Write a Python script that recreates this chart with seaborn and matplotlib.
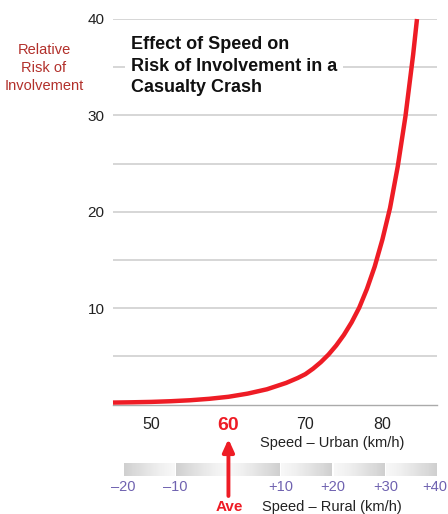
import numpy as np
import pandas as pd
import matplotlib.pyplot as plt
import matplotlib.transforms as mtransforms
import seaborn as sns

# values (urban speed km/h -> relative risk)
speed = [45, 47.5, 50, 52.5, 55, 57.5, 60, 62.5, 65, 67.5, 69, 70, 71, 72,
         73, 74, 75, 76, 77, 78, 79, 80, 81, 82, 83, 84, 84.5]
risk = [0.20, 0.23, 0.27, 0.34, 0.44, 0.59, 0.80, 1.13, 1.58, 2.24, 2.75,
        3.15, 3.72, 4.39, 5.18, 6.12, 7.22, 8.52, 10.06, 12.0, 14.3, 17.1,
        20.4, 24.7, 29.9, 36.3, 40.0]

urban_ticks = [50, 60, 70, 80]
urban_minor = [45, 55, 65, 75, 85]
risk_ticks = [10, 20, 30, 40]
risk_minor = [5, 15, 25, 35]
rural_bounds = [-20, -10, 0, 10, 20, 30, 40]
rural_labels = ["\u201320", "\u201310", "+10", "+20", "+30", "+40"]
rural_label_pos = [-20, -10, 10, 20, 30, 40]
ave_speed = 60

sns.set_style("white")
plt.rcParams['font.family'] = ['Liberation Sans Narrow', 'Liberation Sans', 'DejaVu Sans']

RED = '#ee1c25'
DARKRED = '#b2302b'
PURPLE = '#6f62b0'
TXT = '#222222'

W, H = 448, 514
fig = plt.figure(figsize=(W / 100, H / 100), dpi=100)


def fx(px):
    return px / W


def fy(py):
    return 1 - py / H


ax = fig.add_axes([fx(113), fy(404.5), fx(437) - fx(113), fy(19) - fy(404.5)])
ax.set_zorder(2)
ax.patch.set_visible(False)
df = pd.DataFrame({'speed': speed, 'risk': risk})
sns.lineplot(data=df, x='speed', y='risk', ax=ax, color=RED, lw=3.2,
             solid_capstyle='butt', solid_joinstyle='round', clip_on=False, zorder=3)
ax.set_xlim(45, 87.1)
ax.set_ylim(0, 40)
ax.set_xlabel('')
ax.set_ylabel('')

ax.set_yticks(risk_ticks)
ax.set_yticks(risk_minor, minor=True)
ax.set_yticklabels([str(t) for t in risk_ticks], fontsize=11, color=TXT)
ax.tick_params(axis='y', which='both', length=0, pad=6)
ax.grid(axis='y', which='both', color='#d6d6d6', lw=1.4)
ax.set_axisbelow(True)

ax.set_xticks(urban_ticks)
ax.set_xticks(urban_minor, minor=True)
ax.set_xticklabels([str(t) for t in urban_ticks], fontsize=11.5, color=TXT)
ax.tick_params(axis='x', which='both', length=5, width=0.9, color='#999999',
               direction='out', pad=4)
for lab in ax.get_xticklabels():
    if lab.get_text() == str(ave_speed):
        lab.set_color(RED)
        lab.set_fontweight('bold')
        lab.set_fontsize(14)
for t in ax.xaxis.get_major_ticks():
    if abs(t.get_loc() - ave_speed) < 1e-6:
        t.tick1line.set_color(RED)

for s in ['top', 'right', 'left']:
    ax.spines[s].set_visible(False)
ax.spines['bottom'].set_color('#aaaaaa')
ax.spines['bottom'].set_linewidth(1.0)

ax.text(0.055, 0.955, "Effect of Speed on\nRisk of Involvement in a\nCasualty Crash",
        transform=ax.transAxes, ha='left', va='top', fontsize=13,
        fontweight='bold', color='#111111', linespacing=1.35,
        bbox=dict(facecolor='white', edgecolor='none', pad=4))

fig.text(fx(44), fy(68), "Relative\nRisk of\nInvolvement", ha='center', va='center',
         fontsize=10.5, color=DARKRED, linespacing=1.4)

fig.text(fx(332), fy(443), "Speed \u2013 Urban (km/h)", ha='center', va='center',
         fontsize=10.5, color=TXT)

# rural scale bar
rax = fig.add_axes([fx(123), fy(476), fx(438) - fx(123), fy(463) - fy(476)])
rax.set_zorder(1)
grad = np.linspace(0, 1, 64).reshape(1, -1)
for a, b in zip(rural_bounds[:-1], rural_bounds[1:]):
    g = grad if b <= 0 else grad[:, ::-1]
    left = a + (0.0 if a == 0 else 0.15)
    right = b - (0.0 if b == 0 else 0.15)
    rax.imshow(g, extent=(left, right, 0, 1), cmap='Greys_r', vmin=-3.0,
               vmax=1.25, aspect='auto', interpolation='bilinear')
rax.set_xlim(rural_bounds[0], rural_bounds[-1])
rax.set_ylim(0, 1)
rax.set_xticks(rural_label_pos)
rax.set_xticklabels(rural_labels, fontsize=10.5, color=PURPLE)
rax.tick_params(axis='x', length=0, pad=3)
rax.set_yticks([])
for s in rax.spines.values():
    s.set_visible(False)
# keep the last label inside the canvas
last = rax.get_xticklabels()[-1]
last.set_transform(last.get_transform() +
                   mtransforms.ScaledTranslation(-3 / 100, 0, fig.dpi_scale_trans))

fig.text(fx(332), fy(507), "Speed \u2013 Rural (km/h)", ha='center', va='center',
         fontsize=10.5, color=TXT)

ax.annotate("", xy=(ave_speed, H - 439), xycoords=('data', 'figure pixels'),
            xytext=(ave_speed, H - 496), textcoords=('data', 'figure pixels'),
            arrowprops=dict(arrowstyle='-|>,head_width=0.34,head_length=0.75',
                            color=RED, lw=2.8, shrinkA=0, shrinkB=0),
            annotation_clip=False, zorder=5)
fig.text(fx(229), fy(507), "Ave", ha='center', va='center', fontsize=11,
         fontweight='bold', color=RED)

fig.savefig('out.png', dpi=100)
